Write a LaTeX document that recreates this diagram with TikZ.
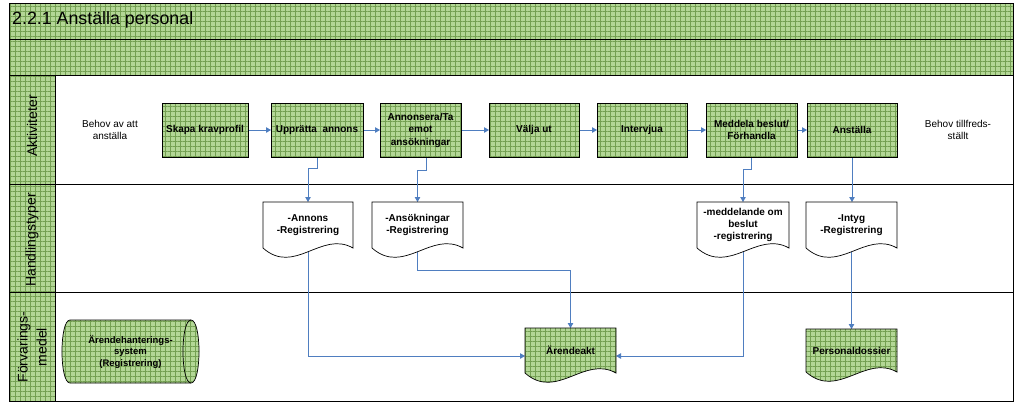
\documentclass[tikz,border=0pt]{standalone}
\usepackage{fontspec}
\setmainfont{Liberation Sans}
\usetikzlibrary{arrows.meta,calc,patterns.meta}
\pgfdeclarelayer{back}
\pgfdeclarelayer{conn}
\pgfdeclarelayer{shape}
\pgfsetlayers{back,conn,shape,main}
\definecolor{gbase}{HTML}{B3D796}
\definecolor{gline}{HTML}{74A052}
\definecolor{cblue}{HTML}{4F7EC0}
\newcommand{\docpath}[2]{\path[#2] (#1.north west) -- (#1.north east) -- (#1.south east) .. controls ($(#1.south west)!0.65!(#1.south east)+(0,-18)$) and ($(#1.south west)!0.35!(#1.south east)+(0,28)$) .. (#1.south west) -- cycle;}
\tikzset{
  gfill/.style={preaction={fill=gbase}, pattern={Hatch[distance=5pt, line width=0.35pt]}, pattern color=gline},
  frame/.style={draw=black, line width=0.9pt},
  actbox/.style={draw=black, line width=0.8pt, gfill, minimum height=54, inner sep=1pt, outer sep=0pt, align=center, font=\fontsize{10}{12.5}\selectfont\bfseries},
  docnode/.style={minimum height=46, inner sep=1pt, outer sep=0pt, align=center, font=\fontsize{10}{12}\selectfont\bfseries},
  docw/.style={fill=white, draw=black, line width=0.7pt},
  docg/.style={gfill, draw=black, line width=0.7pt},
  conn/.style={draw=cblue, line width=0.8pt, -{Triangle[width=5.5pt,length=5pt]}},
  lanelbl/.style={rotate=90, align=center, font=\fontsize{14}{19}\selectfont},
  plain/.style={align=center, font=\fontsize{10}{12}\selectfont}
}
\begin{document}
\begin{tikzpicture}[x=1pt,y=-1pt]
\useasboundingbox (0,0) rectangle (1024,416);
\begin{pgfonlayer}{back}
  \fill[white] (0,0) rectangle (1024,416);
  \path[gfill] (9,3) rectangle (1013,75);
  \path[gfill] (9,75) rectangle (55,401);
  \draw[frame] (9,3) rectangle (1013,401);
  \draw[frame] (9,39) -- (1013,39);
  \draw[frame] (9,75) -- (1013,75);
  \draw[frame] (9,184) -- (1013,184);
  \draw[frame] (9,292) -- (1013,292);
  \draw[frame] (55,75) -- (55,401);
\end{pgfonlayer}

% title and lane labels
\node[anchor=west, font=\fontsize{17.8}{20}\selectfont, inner sep=0pt] (title) at (12,20) {2.2.1 Anställa personal};
\node[lanelbl] (lakt) at (32,126) {Aktiviteter};
\node[lanelbl] (lhand) at (32,240) {Handlingstyper};
\node[lanelbl] (lforv) at (32,347) {Förvarings-\\medel};

% start / end texts
\node[plain] (start) at (110,130) {Behov av att\\anställa};
\node[plain] (slut) at (958,130) {Behov tillfreds-\\ställt};

% activities
\node[actbox, minimum width=86] (skapa) at (205,130) {Skapa kravprofil};
\node[actbox, minimum width=92] (upp) at (317,130) {Upprätta\ \ annons};
\node[actbox, minimum width=81] (ann) at (420.5,130) {Annonsera/Ta\\emot\\ansökningar};
\node[actbox, minimum width=90] (valja) at (534,130) {Välja ut};
\node[actbox, minimum width=90] (interv) at (642,130) {Intervjua};
\node[actbox, minimum width=91] (medd) at (751.5,130) {Meddela beslut/\\Förhandla};
\node[actbox, minimum width=90] (anst) at (852,130) {Anställa};

% document types
\node[docnode, minimum width=90] (dannons) at (308,225) {-Annons\\-Registrering};
\node[docnode, minimum width=91] (dans) at (417.5,225) {-Ansökningar\\-Registrering};
\node[docnode, minimum width=92] (dmedd) at (743,225) {-meddelande om\\beslut\\-registrering};
\node[docnode, minimum width=91] (dintyg) at (851.5,225) {-Intyg\\-Registrering};

% storage
\node[docnode, minimum width=91, minimum height=45] (arende) at (570.5,350.5) {Ärendeakt};
\node[docnode, minimum width=91, minimum height=43] (pers) at (851.5,350.5) {Personaldossier};
\node[minimum width=121, minimum height=63, inner sep=0pt, outer sep=0pt, align=center, font=\fontsize{9.5}{11.5}\selectfont\bfseries] (cyl) at (130.5,351.5) {Ärendehanterings-\\system\\(Registrering)};

\begin{pgfonlayer}{shape}
  \docpath{dannons}{docw}
  \docpath{dans}{docw}
  \docpath{dmedd}{docw}
  \docpath{dintyg}{docw}
  \docpath{arende}{docg}
  \docpath{pers}{docg}
  \path[gfill, draw=black, line width=0.7pt] (cyl.north west) -- (cyl.north east) .. controls +(10.7,0) and +(10.7,0) .. (cyl.south east) -- (cyl.south west) .. controls +(-10.7,0) and +(-10.7,0) .. (cyl.north west) -- cycle;
  \draw[black, line width=0.7pt] (cyl.north east) .. controls +(-10.7,0) and +(-10.7,0) .. (cyl.south east);
\end{pgfonlayer}

\begin{pgfonlayer}{conn}
  \draw[conn] (skapa.east) -- (upp.west);
  \draw[conn] (upp.east) -- (ann.west);
  \draw[conn] (ann.east) -- (valja.west);
  \draw[conn] (valja.east) -- (interv.west);
  \draw[conn] (interv.east) -- (medd.west);
  \draw[conn] (medd.east) -- (anst.west);
  \draw[conn] (upp.south) -- ++(0,11) -| (dannons.north);
  \draw[conn] ([xshift=5.5pt]ann.south) -- ++(0,13) -| (dans.north);
  \draw[conn] (medd.south) -- ++(0,12) -| (dmedd.north);
  \draw[conn] (anst.south) -- (anst.south |- dintyg.north);
  \draw[conn] (dannons.south) |- ([yshift=-5.5pt]arende.west);
  \draw[conn] (dans.south) -- ++(0,22) -| (arende.north);
  \draw[conn] (dmedd.south) |- ([yshift=-5.5pt]arende.east);
  \draw[conn] (dintyg.south) -- (dintyg.south |- pers.north);
\end{pgfonlayer}
\end{tikzpicture}
\end{document}
